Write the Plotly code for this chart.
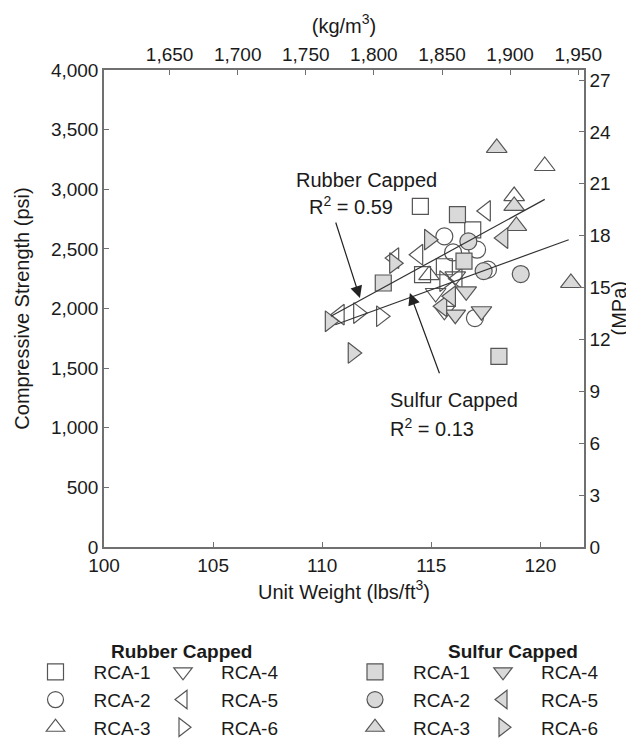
import plotly.graph_objects as go

# ---------------- data (unit weight lbs/ft3, compressive strength psi) -------------
labels = ["RCA-1", "RCA-2", "RCA-3", "RCA-4", "RCA-5", "RCA-6"]

rub_x = {
    "RCA-1": [114.5, 114.6, 116.9, 115.6],
    "RCA-2": [115.6, 117.1, 117.6, 117.0, 116.0],
    "RCA-3": [118.8, 120.2, 114.9],
    "RCA-4": [115.2, 116.1, 115.6],
    "RCA-5": [117.5, 113.3, 114.4, 110.8, 116.2],
    "RCA-6": [112.7, 111.65, 115.6],
}
rub_y = {
    "RCA-1": [2857, 2284, 2660, 2350],
    "RCA-2": [2605, 2493, 2326, 1920, 2470],
    "RCA-3": [2943, 3195, 2280],
    "RCA-4": [2130, 2270, 1980],
    "RCA-5": [2818, 2423, 2451, 1948, 2250],
    "RCA-6": [1935, 1962, 2230],
}
sul_x = {
    "RCA-1": [116.2, 112.8, 116.5, 118.1],
    "RCA-2": [116.7, 117.4, 119.1],
    "RCA-3": [118.0, 121.4, 118.8, 118.9],
    "RCA-4": [116.6, 116.1, 117.3],
    "RCA-5": [118.3, 115.5, 115.9],
    "RCA-6": [114.9, 110.35, 111.4, 113.3],
}
sul_y = {
    "RCA-1": [2787, 2214, 2398, 1599],
    "RCA-2": [2563, 2314, 2289],
    "RCA-3": [3346, 2214, 2860, 2692],
    "RCA-4": [2144, 1948, 1977],
    "RCA-5": [2591, 2018, 2102],
    "RCA-6": [2577, 1893, 1627, 2380],
}

# trend lines (end points)
rub_fit_x = [110.4, 120.2]
rub_fit_y = [1935, 2915]
sul_fit_x = [110.6, 121.3]
sul_fit_y = [1864, 2577]

x_ticks = [100, 105, 110, 115, 120]
y_ticks = [0, 500, 1000, 1500, 2000, 2500, 3000, 3500, 4000]
kg_ticks = [1650, 1700, 1750, 1800, 1850, 1900, 1950]
mpa_ticks = [0, 3, 6, 9, 12, 15, 18, 21, 24, 27]

LB_TO_KG = 16.0185
PSI_TO_MPA = 0.00689476
X_RANGE = [100, 122]
Y_RANGE = [0, 4000]

symbols = {"RCA-1": "square", "RCA-2": "circle", "RCA-3": "triangle-up",
           "RCA-4": "triangle-down", "RCA-5": "triangle-left", "RCA-6": "triangle-right"}
sizes = {"RCA-1": 16, "RCA-2": 17, "RCA-3": 18, "RCA-4": 18, "RCA-5": 18, "RCA-6": 18}

FONT = "Liberation Sans, Arial, sans-serif"
EDGE = "#555555"
GRAY = "#d9d9d9"

# plot-area geometry in pixels (used only to place legend / titles)
PL, PR, PT, PB = 96, 576, 62, 539
W, H = 634, 742


def px_x(p):
    return (p - PL) / (PR - PL)


def px_y(p):
    return (PB - p) / (PB - PT)


fig = go.Figure()

for lab in labels:
    leg = "legend" if lab in ("RCA-1", "RCA-2", "RCA-3") else "legend2"
    fig.add_trace(go.Scatter(
        x=rub_x[lab], y=rub_y[lab], mode="markers", name=lab, legend=leg,
        marker=dict(symbol=symbols[lab] + "-open", size=sizes[lab], color=EDGE,
                    line=dict(width=1.2, color=EDGE)),
    ))
for lab in labels:
    leg = "legend3" if lab in ("RCA-1", "RCA-2", "RCA-3") else "legend4"
    fig.add_trace(go.Scatter(
        x=sul_x[lab], y=sul_y[lab], mode="markers", name=lab, legend=leg,
        marker=dict(symbol=symbols[lab], size=sizes[lab], color=GRAY,
                    line=dict(width=1.2, color=EDGE)),
    ))

fig.add_trace(go.Scatter(x=rub_fit_x, y=rub_fit_y, mode="lines", showlegend=False,
                         line=dict(color="#333333", width=1.2)))
# sulfur trend line drawn on the metric axes (same line, converted units)
fig.add_trace(go.Scatter(x=[v * LB_TO_KG for v in sul_fit_x],
                         y=[v * PSI_TO_MPA for v in sul_fit_y],
                         xaxis="x2", yaxis="y2", mode="lines", showlegend=False,
                         line=dict(color="#333333", width=1.2)))

axis_common = dict(showgrid=False, zeroline=False, showline=True, linecolor="#707070",
                   linewidth=1.5, ticks="inside", ticklen=5, tickcolor="#707070",
                   tickfont=dict(size=19, color="#1a1a1a"), automargin=True)

fig.update_layout(
    width=W, height=H,
    margin=dict(l=PL, r=W - PR, t=PT, b=H - PB, autoexpand=False),
    paper_bgcolor="white", plot_bgcolor="white",
    font=dict(family=FONT, size=19, color="#1a1a1a"),
    xaxis=dict(range=X_RANGE, tickvals=x_ticks, ticktext=[str(v) for v in x_ticks],
               title=dict(text="Unit Weight (lbs/ft<sup>3</sup>)", standoff=10, font=dict(size=20)),
               **axis_common),
    yaxis=dict(range=Y_RANGE, tickvals=y_ticks, ticktext=[f"{v:,}" for v in y_ticks],
               title=dict(text="Compressive Strength (psi)", standoff=16, font=dict(size=20)),
               **axis_common),
    xaxis2=dict(range=[X_RANGE[0] * LB_TO_KG, X_RANGE[1] * LB_TO_KG], overlaying="x", side="top",
                anchor="y", tickvals=kg_ticks, ticktext=[f"{v:,}" for v in kg_ticks],
                title=dict(text="(kg/m<sup>3</sup>)", standoff=5, font=dict(size=20)),
                **axis_common),
    yaxis2=dict(range=[Y_RANGE[0] * PSI_TO_MPA, Y_RANGE[1] * PSI_TO_MPA], overlaying="y",
                side="right", anchor="x", tickvals=mpa_ticks, ticktext=[str(v) for v in mpa_ticks],
                **axis_common),
)

# right-hand axis title (placed as rotated text so it stays inside the page)
fig.add_annotation(text="(MPa)", xref="paper", yref="paper", x=px_x(610), y=0.5,
                   textangle=-90, showarrow=False, font=dict(size=20),
                   xanchor="center", yanchor="middle")

leg_common = dict(xref="paper", yref="paper", yanchor="top", xanchor="left",
                  bgcolor="rgba(0,0,0,0)", font=dict(size=19, family=FONT, color="#1a1a1a"),
                  itemsizing="trace", tracegroupgap=0, itemwidth=66)
top = px_y(645)
fig.update_layout(
    legend=dict(x=px_x(9.5), y=top, **leg_common),
    legend2=dict(x=px_x(137), y=top, **leg_common),
    legend3=dict(x=px_x(329), y=top, **leg_common),
    legend4=dict(x=px_x(457), y=top, **leg_common),
)

# group titles
fig.add_annotation(text="<b>Rubber Capped</b>", xref="paper", yref="paper",
                   x=px_x(173), y=px_y(643), showarrow=False,
                   font=dict(size=19), xanchor="center", yanchor="middle")
fig.add_annotation(text="<b>Sulfur Capped</b>", xref="paper", yref="paper",
                   x=px_x(505), y=px_y(643), showarrow=False,
                   font=dict(size=19), xanchor="center", yanchor="middle")

# trend-line labels
fig.add_annotation(text="Rubber Capped", x=108.7, y=3078, xanchor="left", yanchor="middle",
                   showarrow=False, font=dict(size=20))
fig.add_annotation(text="R<sup>2</sup> = 0.59", x=109.3, y=2860, xanchor="left", yanchor="middle",
                   showarrow=False, font=dict(size=20))
fig.add_annotation(text="Sulfur Capped", x=113.0, y=1235, xanchor="left", yanchor="middle",
                   showarrow=False, font=dict(size=20))
fig.add_annotation(text="R<sup>2</sup> = 0.13", x=113.0, y=1005, xanchor="left", yanchor="middle",
                   showarrow=False, font=dict(size=20))

# arrows
fig.add_annotation(x=111.73, y=2088, ax=110.6, ay=2734, axref="x", ayref="y", text="",
                   showarrow=True, arrowhead=2, arrowsize=2, arrowwidth=1.2, arrowcolor="#222222")
fig.add_annotation(x=114.02, y=2130, ax=115.4, ay=1445, axref="x", ayref="y", text="",
                   showarrow=True, arrowhead=2, arrowsize=2, arrowwidth=1.2, arrowcolor="#222222")

fig.write_html("out.html")
